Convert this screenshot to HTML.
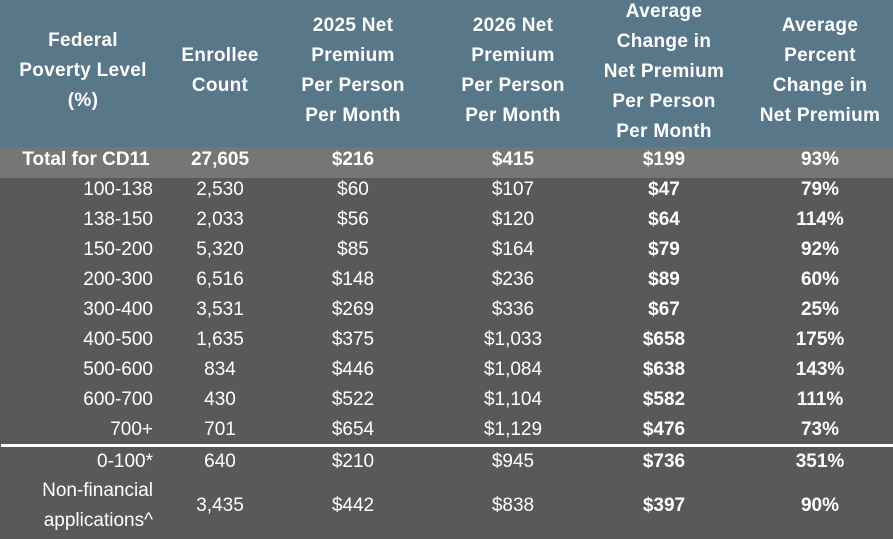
<!DOCTYPE html>
<html><head><style>
body{margin:0;width:893px;height:539px;background:#595959;position:relative;overflow:hidden;font-family:"Liberation Sans",Arial,sans-serif;color:#fff;}
#hd{position:absolute;left:0;top:0;width:893px;height:147px;background:#587789;}
#tot{position:absolute;left:0;top:147px;width:893px;height:31px;background:#767676;}
#ln{position:absolute;left:1px;top:444px;width:892px;height:3px;background:#fff;}
.t{position:absolute;width:200px;margin-left:-100px;text-align:center;font-size:19px;line-height:30px;white-space:nowrap;}
.h{font-weight:bold;font-size:19px;letter-spacing:0.3px;}
.r{position:absolute;text-align:right;width:160px;left:-7px;font-size:19px;line-height:30px;white-space:nowrap;}
.b{font-weight:bold;}
</style></head><body>
<div id="hd"></div><div id="tot"></div><div id="ln"></div>
<div class="t h" style="left:83px;top:26px">Federal<br>Poverty Level<br>(%)</div>
<div class="t h" style="left:220px;top:41px">Enrollee<br>Count</div>
<div class="t h" style="left:353px;top:11px">2025 Net<br>Premium<br>Per Person<br>Per Month</div>
<div class="t h" style="left:513px;top:11px">2026 Net<br>Premium<br>Per Person<br>Per Month</div>
<div class="t h" style="left:664px;top:-3px">Average<br>Change in<br>Net Premium<br>Per Person<br>Per Month</div>
<div class="t h" style="left:820px;top:11px">Average<br>Percent<br>Change in<br>Net Premium</div>

<div class="t b" style="left:86px;top:145px">Total for CD11</div>
<div class="t b" style="left:220px;top:145px">27,605</div>
<div class="t b" style="left:353px;top:145px">$216</div>
<div class="t b" style="left:513px;top:145px">$415</div>
<div class="t b" style="left:664px;top:145px">$199</div>
<div class="t b" style="left:820px;top:145px">93%</div>

<div class="r" style="top:175px">100-138</div><div class="t" style="left:220px;top:175px">2,530</div><div class="t" style="left:353px;top:175px">$60</div><div class="t" style="left:513px;top:175px">$107</div><div class="t b" style="left:664px;top:175px">$47</div><div class="t b" style="left:820px;top:175px">79%</div>
<div class="r" style="top:205px">138-150</div><div class="t" style="left:220px;top:205px">2,033</div><div class="t" style="left:353px;top:205px">$56</div><div class="t" style="left:513px;top:205px">$120</div><div class="t b" style="left:664px;top:205px">$64</div><div class="t b" style="left:820px;top:205px">114%</div>
<div class="r" style="top:235px">150-200</div><div class="t" style="left:220px;top:235px">5,320</div><div class="t" style="left:353px;top:235px">$85</div><div class="t" style="left:513px;top:235px">$164</div><div class="t b" style="left:664px;top:235px">$79</div><div class="t b" style="left:820px;top:235px">92%</div>
<div class="r" style="top:265px">200-300</div><div class="t" style="left:220px;top:265px">6,516</div><div class="t" style="left:353px;top:265px">$148</div><div class="t" style="left:513px;top:265px">$236</div><div class="t b" style="left:664px;top:265px">$89</div><div class="t b" style="left:820px;top:265px">60%</div>
<div class="r" style="top:295px">300-400</div><div class="t" style="left:220px;top:295px">3,531</div><div class="t" style="left:353px;top:295px">$269</div><div class="t" style="left:513px;top:295px">$336</div><div class="t b" style="left:664px;top:295px">$67</div><div class="t b" style="left:820px;top:295px">25%</div>
<div class="r" style="top:325px">400-500</div><div class="t" style="left:220px;top:325px">1,635</div><div class="t" style="left:353px;top:325px">$375</div><div class="t" style="left:513px;top:325px">$1,033</div><div class="t b" style="left:664px;top:325px">$658</div><div class="t b" style="left:820px;top:325px">175%</div>
<div class="r" style="top:355px">500-600</div><div class="t" style="left:220px;top:355px">834</div><div class="t" style="left:353px;top:355px">$446</div><div class="t" style="left:513px;top:355px">$1,084</div><div class="t b" style="left:664px;top:355px">$638</div><div class="t b" style="left:820px;top:355px">143%</div>
<div class="r" style="top:385px">600-700</div><div class="t" style="left:220px;top:385px">430</div><div class="t" style="left:353px;top:385px">$522</div><div class="t" style="left:513px;top:385px">$1,104</div><div class="t b" style="left:664px;top:385px">$582</div><div class="t b" style="left:820px;top:385px">111%</div>
<div class="r" style="top:415px">700+</div><div class="t" style="left:220px;top:415px">701</div><div class="t" style="left:353px;top:415px">$654</div><div class="t" style="left:513px;top:415px">$1,129</div><div class="t b" style="left:664px;top:415px">$476</div><div class="t b" style="left:820px;top:415px">73%</div>
<div class="r" style="top:447px">0-100*</div><div class="t" style="left:220px;top:447px">640</div><div class="t" style="left:353px;top:447px">$210</div><div class="t" style="left:513px;top:447px">$945</div><div class="t b" style="left:664px;top:447px">$736</div><div class="t b" style="left:820px;top:447px">351%</div>
<div class="r" style="top:476px">Non-financial<br>applications^</div><div class="t" style="left:220px;top:491px">3,435</div><div class="t" style="left:353px;top:491px">$442</div><div class="t" style="left:513px;top:491px">$838</div><div class="t b" style="left:664px;top:491px">$397</div><div class="t b" style="left:820px;top:491px">90%</div>
</body></html>
